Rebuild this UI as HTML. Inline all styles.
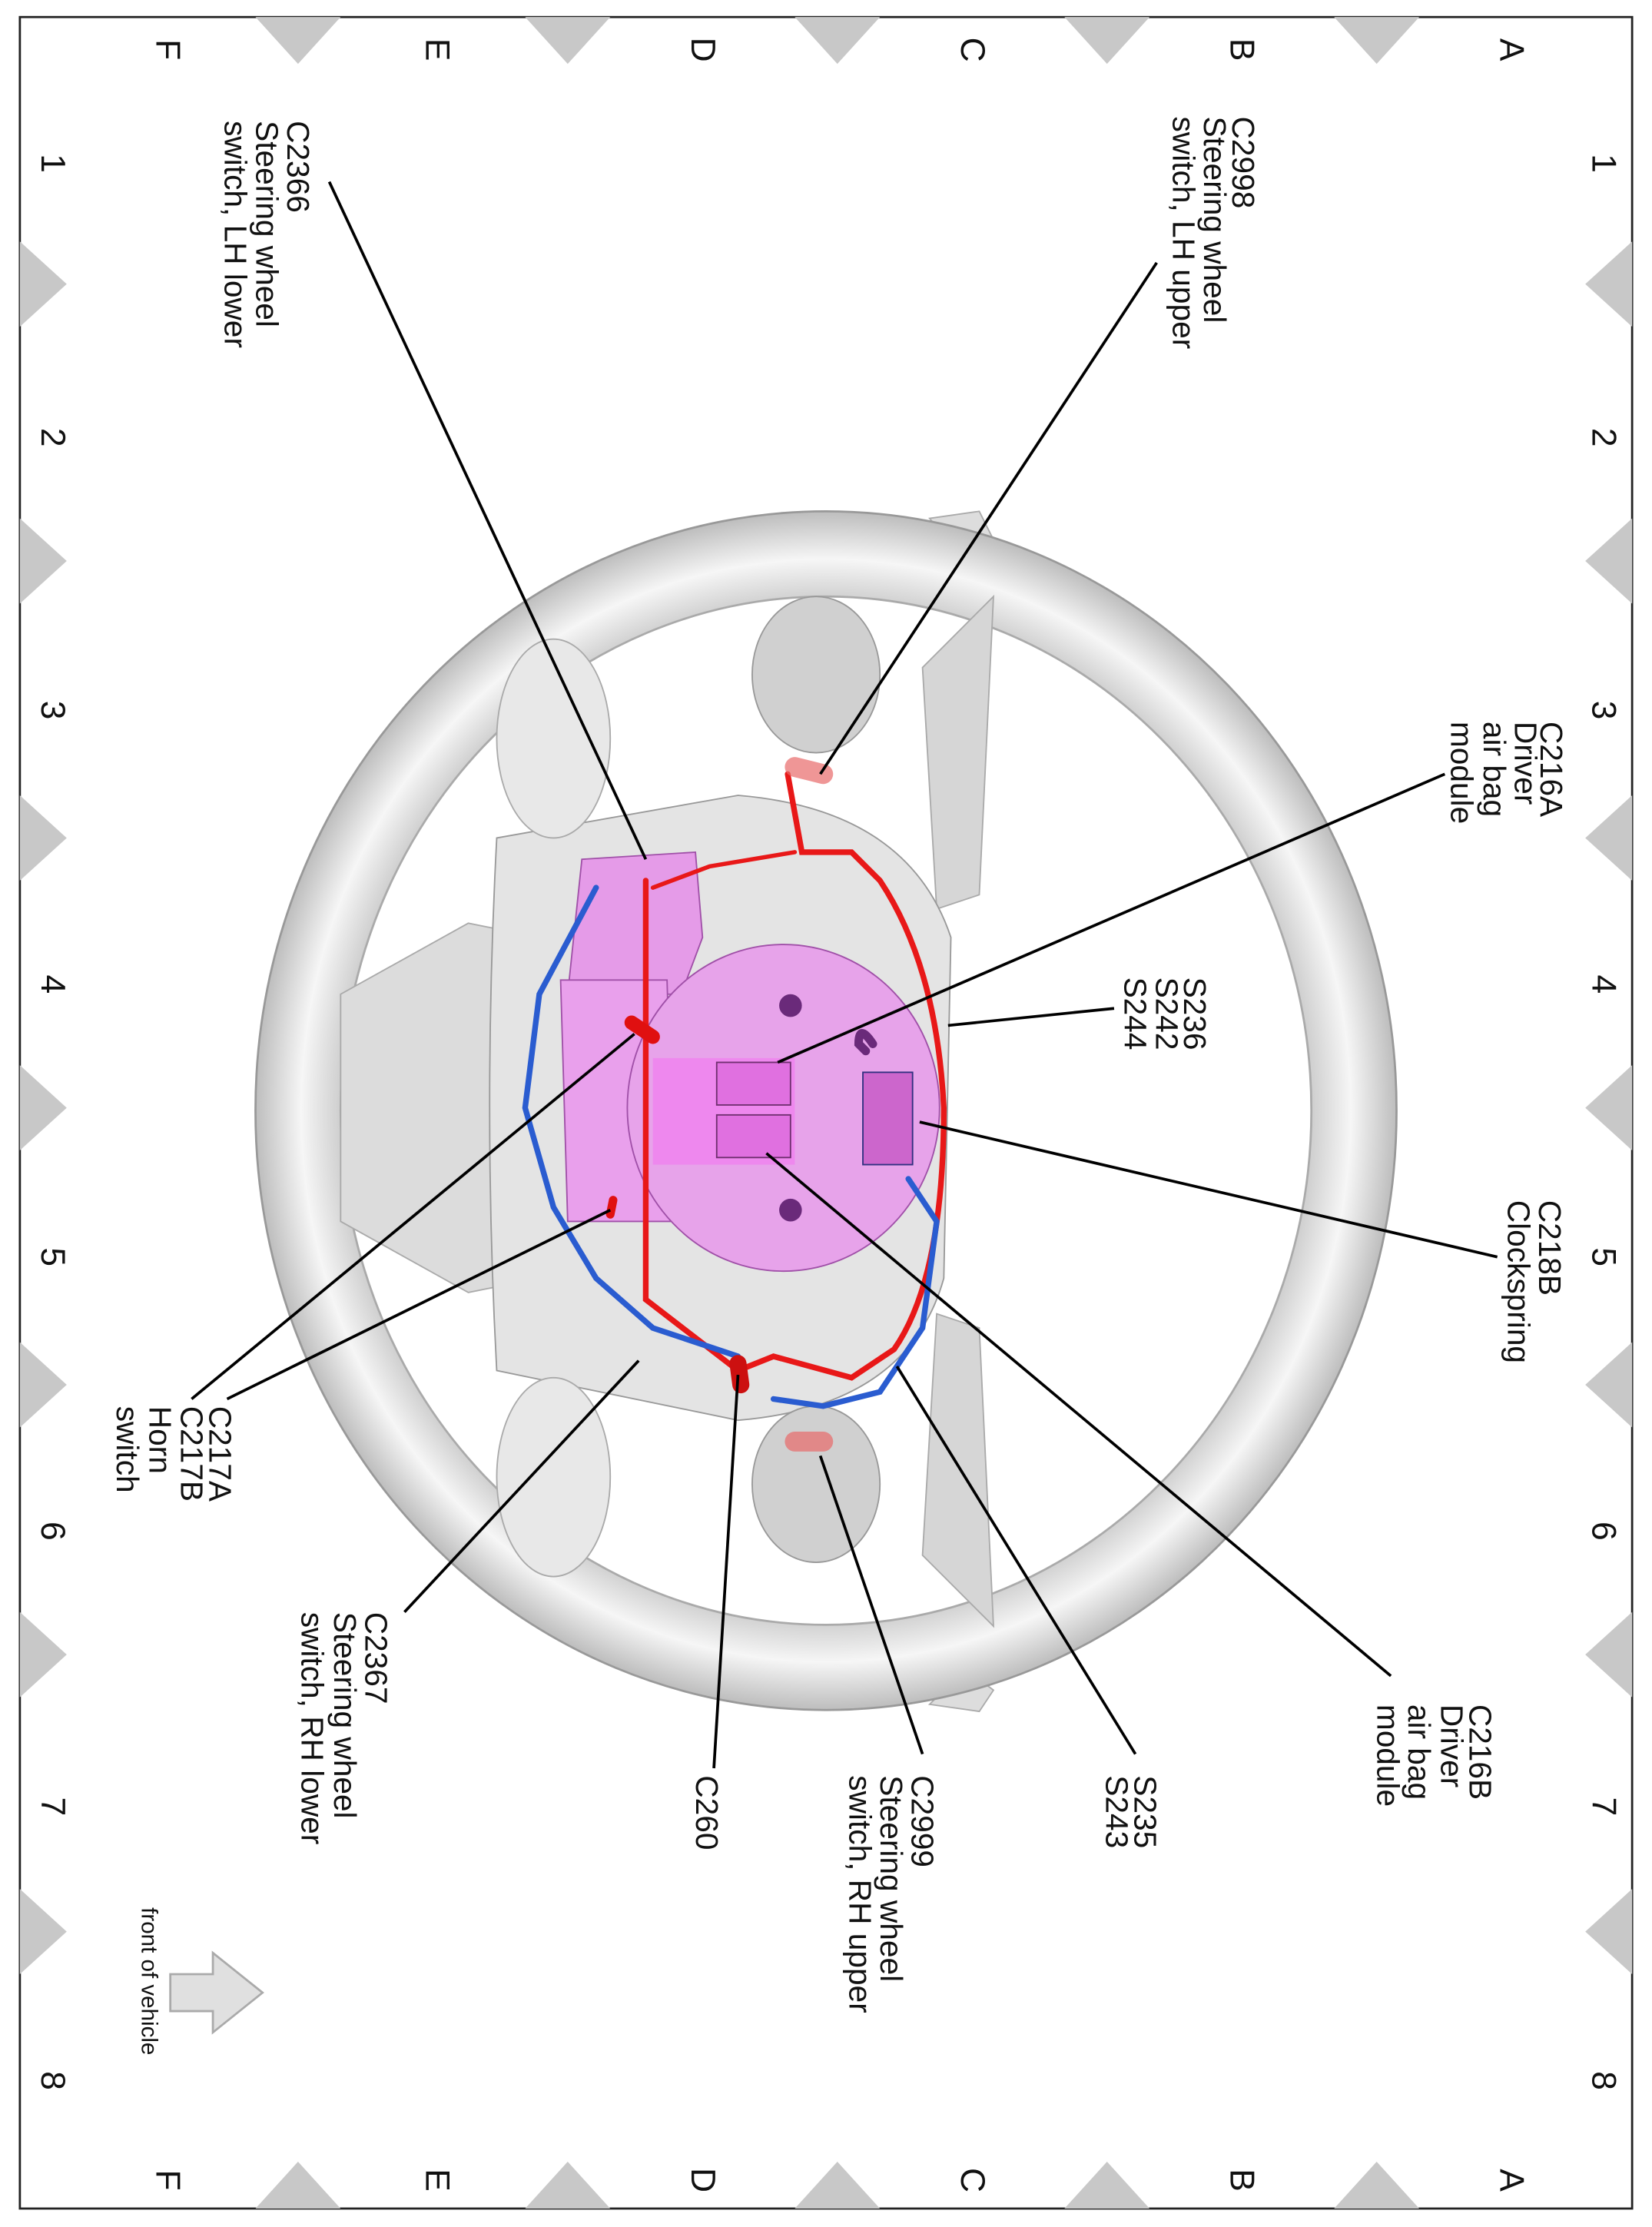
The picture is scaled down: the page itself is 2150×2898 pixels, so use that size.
<!DOCTYPE html>
<html><head><meta charset="utf-8"><style>
html,body{margin:0;padding:0;background:#fff;}
svg{display:block;}
text{font-family:"Liberation Sans",sans-serif;fill:#111;}
</style></head><body>
<svg width="2150" height="2898" viewBox="0 0 1164 1568" preserveAspectRatio="none" xmlns="http://www.w3.org/2000/svg">
<defs>
<radialGradient id="rim" cx="50%" cy="50%" r="50%">
<stop offset="0.84" stop-color="#c8c8c8"/><stop offset="0.92" stop-color="#f6f6f6"/><stop offset="1" stop-color="#bdbdbd"/>
</radialGradient>
</defs>
<rect x="0" y="0" width="1164" height="1568" fill="#fff"/>
<rect x="14" y="12" width="1136" height="1543" fill="none" stroke="#222" stroke-width="1.5"/>
<g fill="#c8c8c8">
<polygon points="180,12 240,12 210,45"/><polygon points="370,12 430,12 400,45"/><polygon points="560,12 620,12 590,45"/><polygon points="750,12 810,12 780,45"/><polygon points="940,12 1000,12 970,45"/>
<polygon points="180,1555 240,1555 210,1522"/><polygon points="370,1555 430,1555 400,1522"/><polygon points="560,1555 620,1555 590,1522"/><polygon points="750,1555 810,1555 780,1522"/><polygon points="940,1555 1000,1555 970,1522"/>
<polygon points="14,170 14,230 47,200"/><polygon points="14,365 14,425 47,395"/><polygon points="14,560 14,620 47,590"/><polygon points="14,750 14,810 47,780"/><polygon points="14,945 14,1005 47,975"/><polygon points="14,1135 14,1195 47,1165"/><polygon points="14,1330 14,1390 47,1360"/>
<polygon points="1150,170 1150,230 1117,200"/><polygon points="1150,365 1150,425 1117,395"/><polygon points="1150,560 1150,620 1117,590"/><polygon points="1150,750 1150,810 1117,780"/><polygon points="1150,945 1150,1005 1117,975"/><polygon points="1150,1135 1150,1195 1117,1165"/><polygon points="1150,1330 1150,1390 1117,1360"/>
</g>
<g font-size="24" text-anchor="middle" dominant-baseline="central">
<text transform="translate(118,35) rotate(90)">F</text><text transform="translate(308,35) rotate(90)">E</text><text transform="translate(495,35) rotate(90)">D</text><text transform="translate(685,35) rotate(90)">C</text><text transform="translate(875,35) rotate(90)">B</text><text transform="translate(1065,35) rotate(90)">A</text>
<text transform="translate(118,1535) rotate(90)">F</text><text transform="translate(308,1535) rotate(90)">E</text><text transform="translate(495,1535) rotate(90)">D</text><text transform="translate(685,1535) rotate(90)">C</text><text transform="translate(875,1535) rotate(90)">B</text><text transform="translate(1065,1535) rotate(90)">A</text>
<text transform="translate(37,115) rotate(90)">1</text><text transform="translate(37,308) rotate(90)">2</text><text transform="translate(37,500) rotate(90)">3</text><text transform="translate(37,693) rotate(90)">4</text><text transform="translate(37,885) rotate(90)">5</text><text transform="translate(37,1078) rotate(90)">6</text><text transform="translate(37,1272) rotate(90)">7</text><text transform="translate(37,1465) rotate(90)">8</text>
<text transform="translate(1130,115) rotate(90)">1</text><text transform="translate(1130,308) rotate(90)">2</text><text transform="translate(1130,500) rotate(90)">3</text><text transform="translate(1130,693) rotate(90)">4</text><text transform="translate(1130,885) rotate(90)">5</text><text transform="translate(1130,1078) rotate(90)">6</text><text transform="translate(1130,1272) rotate(90)">7</text><text transform="translate(1130,1465) rotate(90)">8</text>
</g>
<!-- wheel -->
<path d="M655,365 L690,360 L700,380 L680,395Z" fill="#ddd" stroke="#aaa"/>
<path d="M655,1200 L690,1205 L700,1190 L680,1175Z" fill="#ddd" stroke="#aaa"/>
<ellipse cx="582" cy="782" rx="402" ry="422" fill="url(#rim)" stroke="#999" stroke-width="1.5"/>
<ellipse cx="582" cy="782" rx="342" ry="362" fill="#fff" stroke="#aaa" stroke-width="1.5"/>
<!-- spokes -->
<path d="M650,470 L700,420 L690,630 L660,640Z" fill="#d6d6d6" stroke="#aaa"/>
<path d="M650,1095 L700,1145 L690,935 L660,925Z" fill="#d6d6d6" stroke="#aaa"/>
<path d="M330,650 L240,700 L240,860 L330,910 L380,900 L380,660Z" fill="#dcdcdc" stroke="#aaa"/>
<!-- hub -->
<path d="M350,590 Q340,780 350,965 L520,1000 Q640,990 665,900 L670,660 Q640,570 520,560Z" fill="#e4e4e4" stroke="#999"/>
<ellipse cx="575" cy="475" rx="45" ry="55" fill="#d0d0d0" stroke="#999"/>
<ellipse cx="575" cy="1045" rx="45" ry="55" fill="#d0d0d0" stroke="#999"/>
<ellipse cx="390" cy="520" rx="40" ry="70" fill="#e8e8e8" stroke="#aaa"/>
<ellipse cx="390" cy="1040" rx="40" ry="70" fill="#e8e8e8" stroke="#aaa"/>
<!-- pink -->
<path d="M410,605 L490,600 L495,660 L480,700 L400,700Z" fill="#e59be8" stroke="#a050a8"/>
<path d="M395,690 L470,690 L475,860 L400,860Z" fill="#e9a0ec" stroke="#a050a8"/>
<ellipse cx="552" cy="780" rx="110" ry="115" fill="#e7a3ea" stroke="#a050a8"/>
<rect x="460" y="745" width="100" height="75" fill="#ee88ee"/>
<rect x="505" y="748" width="52" height="30" fill="#e070e0" stroke="#703070"/>
<rect x="505" y="785" width="52" height="30" fill="#e070e0" stroke="#703070"/>
<circle cx="557" cy="708" r="8" fill="#6a2a7a"/><circle cx="557" cy="852" r="8" fill="#6a2a7a"/>
<rect x="608" y="755" width="35" height="65" fill="#cc66cc" stroke="#303080"/>
<!-- wires -->
<g fill="none" stroke-width="4" stroke-linecap="round">
<path d="M555,545 L565,600 L600,600 L620,620 Q660,680 665,780 Q665,900 630,950 L600,970 L545,955 L520,965 L455,915 L455,850 L455,640 L455,620" stroke="#e81818"/>
<path d="M560,600 L500,610 L460,625" stroke="#e81818" stroke-width="3"/>
<path d="M445,720 L460,730" stroke="#e01010" stroke-width="10"/>
<path d="M430,855 L432,845" stroke="#e01010" stroke-width="6"/>
<path d="M420,625 L380,700 L370,780 L390,850 L420,900 L460,935 L520,955" stroke="#2a5cd0"/>
<path d="M640,830 L660,860 L650,935 L620,980 L580,990 L545,985" stroke="#2a5cd0"/>
<path d="M520,960 L522,975" stroke="#cc1010" stroke-width="12"/>
<path d="M560,540 L580,545" stroke="#e86a6a" stroke-width="14" opacity="0.7"/>
<path d="M560,1015 L580,1015" stroke="#e86a6a" stroke-width="14" opacity="0.7"/>
<path d="M610,740 L605,735 Q605,720 615,735" stroke="#6a2a7a" stroke-width="6"/>
</g>
<!-- leader lines -->
<g stroke="#000" stroke-width="2" fill="none">
<line x1="815" y1="185" x2="578" y2="545"/>
<line x1="232" y1="128" x2="455" y2="605"/>
<line x1="1018" y1="545" x2="548" y2="748"/>
<line x1="785" y1="710" x2="668" y2="722"/>
<line x1="1055" y1="885" x2="648" y2="790"/>
<line x1="980" y1="1180" x2="540" y2="812"/>
<line x1="800" y1="1235" x2="632" y2="962"/>
<line x1="650" y1="1235" x2="578" y2="1025"/>
<line x1="503" y1="1245" x2="520" y2="968"/>
<line x1="285" y1="1135" x2="450" y2="958"/>
<line x1="135" y1="985" x2="447" y2="728"/>
<line x1="160" y1="985" x2="430" y2="852"/>
</g>
<g font-size="22" dominant-baseline="central">
<g transform="translate(876,82) rotate(90)"><text x="0" y="0">C2998</text><text x="0" y="20">Steering wheel</text><text x="0" y="42">switch, LH upper</text></g>
<g transform="translate(210,85) rotate(90)"><text x="0" y="0">C2366</text><text x="0" y="22">Steering wheel</text><text x="0" y="44">switch, LH lower</text></g>
<g transform="translate(1093,508) rotate(90)"><text x="0" y="0">C216A</text><text x="0" y="18">Driver</text><text x="0" y="40">air bag</text><text x="0" y="63">module</text></g>
<g transform="translate(842,688) rotate(90)"><text x="0" y="0">S236</text><text x="0" y="20">S242</text><text x="0" y="42">S244</text></g>
<g transform="translate(1092,845) rotate(90)"><text x="0" y="0">C218B</text><text x="0" y="22">Clockspring</text></g>
<g transform="translate(1043,1200) rotate(90)"><text x="0" y="0">C216B</text><text x="0" y="20">Driver</text><text x="0" y="43">air bag</text><text x="0" y="65">module</text></g>
<g transform="translate(807,1250) rotate(90)"><text x="0" y="0">S235</text><text x="0" y="20">S243</text></g>
<g transform="translate(650,1250) rotate(90)"><text x="0" y="0">C2999</text><text x="0" y="22">Steering wheel</text><text x="0" y="44">switch, RH upper</text></g>
<g transform="translate(498,1250) rotate(90)"><text x="0" y="0">C260</text></g>
<g transform="translate(265,1135) rotate(90)"><text x="0" y="0">C2367</text><text x="0" y="22">Steering wheel</text><text x="0" y="45">switch, RH lower</text></g>
<g transform="translate(155,990) rotate(90)"><text x="0" y="0">C217A</text><text x="0" y="20">C217B</text><text x="0" y="42">Horn</text><text x="0" y="65">switch</text></g>
<g transform="translate(105,1343) rotate(90)"><text x="0" y="0" font-size="16">front of vehicle</text></g>
</g>
<polygon points="120,1390 150,1390 150,1375 185,1403 150,1431 150,1416 120,1416" fill="#e0e0e0" stroke="#aaa" stroke-width="1.5"/>
</svg>
</body></html>
